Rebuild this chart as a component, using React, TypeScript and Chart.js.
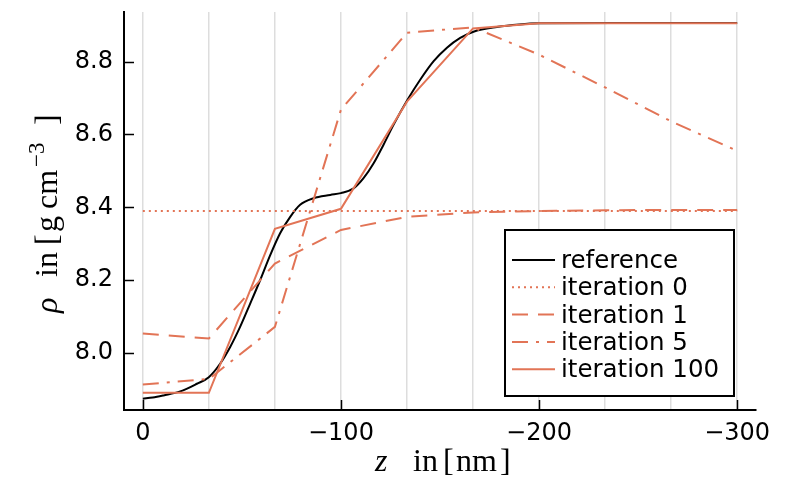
import React, { useEffect, useRef } from 'react';
import { Chart, registerables } from 'chart.js';

Chart.register(...registerables);

// ---- data ----
const zKnots = [0, -33.33, -66.67, -100, -133.33, -166.67, -200, -233.33, -266.67, -300];
const zTickValues = [0, -100, -200, -300];
const rhoTickValues = [8.0, 8.2, 8.4, 8.6, 8.8];

const refZ = [0, -5, -10.5, -18.9, -27.3, -33.3, -39, -44.1, -49.1, -54.2, -59.2, -64.3, -69.3, -74.4, -79.4, -86.2, -94.6, -100, -106.4, -111.4, -116.5, -121.5, -126.6, -133.6, -140, -146.8, -153.5, -160.2, -166.9, -178.7, -190, -200, -250, -300];
const refRho = [7.875, 7.878, 7.884, 7.895, 7.916, 7.934, 7.971, 8.017, 8.072, 8.136, 8.2, 8.269, 8.329, 8.374, 8.407, 8.425, 8.434, 8.439, 8.452, 8.48, 8.521, 8.572, 8.627, 8.695, 8.75, 8.801, 8.838, 8.865, 8.882, 8.895, 8.902, 8.905, 8.906, 8.906];

const iter0 = [8.39, 8.39, 8.39, 8.39, 8.39, 8.39, 8.39, 8.39, 8.39, 8.39];
const iter1 = [8.054, 8.04, 8.246, 8.338, 8.374, 8.386, 8.39, 8.392, 8.393, 8.393];
const iter5 = [7.914, 7.929, 8.072, 8.668, 8.879, 8.894, 8.819, 8.729, 8.636, 8.555];
const iter100 = [7.891, 7.891, 8.341, 8.396, 8.69, 8.891, 8.905, 8.905, 8.905, 8.905];

const seriesLabels = ['reference', 'iteration 0', 'iteration 1', 'iteration 5', 'iteration 100'];

const ORANGE = 'rgb(226,116,86)';
const TICK_FONT = { family: 'DejaVu Sans', size: 24 };

const fmtZ = (v: number) => (v === 0 ? '0' : (v < 0 ? '\u2212' : '') + Math.abs(v).toString());

const axisExtras = {
  id: 'axisExtras',
  afterDatasetsDraw(chart: any) {
    const { ctx, chartArea, scales } = chart;
    const xs = scales.x;
    const ys = scales.y;
    ctx.save();
    ctx.strokeStyle = '#000';
    ctx.lineWidth = 1.5;
    ctx.beginPath();
    zTickValues.forEach((v) => {
      const px = Math.round(xs.getPixelForValue(v)) + 0.5;
      ctx.moveTo(px, chartArea.bottom);
      ctx.lineTo(px, chartArea.bottom - 10);
    });
    rhoTickValues.forEach((v) => {
      const py = Math.round(ys.getPixelForValue(v)) + 0.5;
      ctx.moveTo(chartArea.left, py);
      ctx.lineTo(chartArea.left + 10, py);
    });
    ctx.stroke();
    ctx.restore();
  },
  afterDraw(chart: any) {
    const { ctx, chartArea } = chart;
    // ---- legend ----
    ctx.save();
    const bw = 229;
    const bh = 166;
    const bx = chartArea.right - 22 - bw;
    const by = chartArea.bottom - 14 - bh;
    ctx.fillStyle = '#fff';
    ctx.fillRect(bx, by, bw, bh);
    ctx.strokeStyle = '#000';
    ctx.lineWidth = 2;
    ctx.strokeRect(bx, by, bw, bh);
    chart.data.datasets.forEach((ds: any, i: number) => {
      const ry = by + 30 + i * 27.3;
      ctx.save();
      ctx.strokeStyle = ds.borderColor;
      ctx.lineWidth = ds.borderWidth;
      ctx.setLineDash(ds.borderDash || []);
      ctx.beginPath();
      ctx.moveTo(bx + 7, ry);
      ctx.lineTo(bx + 50, ry);
      ctx.stroke();
      ctx.restore();
      ctx.fillStyle = '#000';
      ctx.font = '24.5px "DejaVu Sans"';
      ctx.textAlign = 'left';
      ctx.textBaseline = 'alphabetic';
      ctx.fillText(ds.label, bx + 56, ry + 8);
    });
    ctx.restore();

    // ---- axis titles ----
    ctx.save();
    ctx.fillStyle = '#000';
    ctx.textBaseline = 'alphabetic';
    ctx.textAlign = 'left';
    const serif = '"Liberation Serif", "DejaVu Serif", serif';
    // x title
    const xb = 471;
    ctx.font = 'italic 32px ' + serif;
    ctx.fillText('z', 375, xb);
    ctx.font = '32px ' + serif;
    ctx.fillText('in', 413, xb);
    ctx.fillText('[', 443, xb);
    ctx.fillText('nm', 456, xb);
    ctx.fillText(']', 500, xb);
    // y title (rotated)
    ctx.translate(57, 313);
    ctx.rotate(-Math.PI / 2);
    ctx.font = 'italic 32px ' + serif;
    ctx.fillText('\u03c1', 0, 0);
    ctx.font = '32px ' + serif;
    ctx.fillText('in', 36, 0);
    ctx.fillText('[', 68, 0);
    ctx.fillText('g', 81, 0);
    ctx.fillText('cm', 104, 0);
    ctx.font = '23px ' + serif;
    ctx.fillText('\u22123', 146, -13);
    ctx.font = '32px ' + serif;
    ctx.fillText(']', 188, 0);
    ctx.restore();
  },
};

export default function App() {
  const canvasRef = useRef<HTMLCanvasElement | null>(null);

  useEffect(() => {
    if (!canvasRef.current) return;
    const toPts = (zs: number[], ys: number[]) => zs.map((z, i) => ({ x: z, y: ys[i] }));
    const chart = new Chart(canvasRef.current, {
      type: 'line',
      data: {
        datasets: [
          {
            label: seriesLabels[0],
            data: toPts(refZ, refRho),
            borderColor: '#000',
            borderWidth: 2,
            pointRadius: 0,
            cubicInterpolationMode: 'monotone',
            fill: false,
            order: 4,
          },
          {
            label: seriesLabels[1],
            data: toPts(zKnots, iter0),
            borderColor: ORANGE,
            borderWidth: 2,
            borderDash: [2, 4],
            pointRadius: 0,
            fill: false,
            order: 3,
          },
          {
            label: seriesLabels[2],
            data: toPts(zKnots, iter1),
            borderColor: ORANGE,
            borderWidth: 2,
            borderDash: [16, 10],
            pointRadius: 0,
            fill: false,
            order: 2,
          },
          {
            label: seriesLabels[3],
            data: toPts(zKnots, iter5),
            borderColor: ORANGE,
            borderWidth: 2,
            borderDash: [16, 8, 3, 8],
            pointRadius: 0,
            fill: false,
            order: 1,
          },
          {
            label: seriesLabels[4],
            data: toPts(zKnots, iter100),
            borderColor: ORANGE,
            borderWidth: 2,
            pointRadius: 0,
            fill: false,
            order: 0,
          },
        ] as any,
      },
      options: {
        responsive: false,
        animation: false,
        layout: { padding: { top: 12, right: 34, left: 0, bottom: 0 } },
        plugins: { legend: { display: false }, tooltip: { enabled: false } },
        scales: {
          x: {
            type: 'linear',
            reverse: true,
            min: -309.5,
            max: 9.5,
            afterBuildTicks: (s: any) => {
              s.ticks = zKnots.map((v) => ({ value: v }));
            },
            afterFit: (s: any) => {
              s.height = 67;
              s.paddingLeft = 0;
              s.paddingRight = 0;
            },
            ticks: {
              autoSkip: false,
              maxRotation: 0,
              color: '#000',
              font: TICK_FONT,
              padding: 9,
              callback: (v: any) => (zTickValues.includes(v) ? fmtZ(v) : ''),
            },
            grid: { color: '#dddddd', lineWidth: 1.5, drawTicks: false },
            border: { color: '#000', width: 2 },
          },
          y: {
            type: 'linear',
            min: 7.844,
            max: 8.936,
            afterBuildTicks: (s: any) => {
              s.ticks = rhoTickValues.map((v) => ({ value: v }));
            },
            afterFit: (s: any) => {
              s.width = 124;
              s.paddingTop = 0;
              s.paddingBottom = 0;
            },
            ticks: {
              color: '#000',
              font: TICK_FONT,
              padding: 11,
              callback: (v: any) => Number(v).toFixed(1),
            },
            grid: { display: false, drawTicks: false },
            border: { color: '#000', width: 2 },
          },
        },
      } as any,
      plugins: [axisExtras],
    });
    return () => chart.destroy();
  }, []);

  return (
    <div style={{ position: 'fixed', left: 0, top: 0, width: 790, height: 477, background: '#fff' }}>
      <canvas ref={canvasRef} width={790} height={477} style={{ display: 'block', width: 790, height: 477 }} />
    </div>
  );
}
